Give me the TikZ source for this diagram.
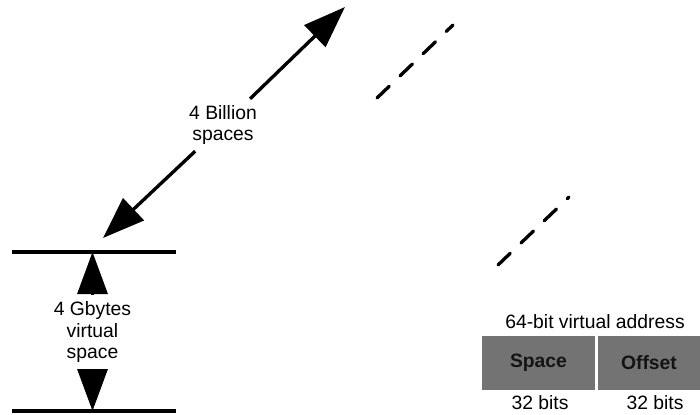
\documentclass[tikz,border=0pt]{standalone}
\usepackage{fontspec}
\setmainfont{Liberation Sans}
\usetikzlibrary{arrows.meta}
\tikzset{
  bigarrow/.style={line width=1.9pt,-{Triangle[length=0.84cm,width=0.6cm]}},
  rule/.style={line width=1.9pt},
  stackline/.style={line width=1.9pt,line cap=round,dash pattern=on 0.34cm off 0.3cm},
  lbl/.style={font=\fontsize{11}{12.5}\selectfont,align=center},
  field/.style={fill=black!55,minimum width=2.26cm,minimum height=1.08cm,inner sep=0pt,
    font=\fontsize{11}{12.5}\selectfont\bfseries,text=black!92}
}
\begin{document}
\begin{tikzpicture}
                \useasboundingbox (0,0) rectangle (14,-8.28);
                % one 4 GB space
                \coordinate (tl) at (0.24,-5.04);
                \coordinate (tr) at (3.52,-5.04);
                \coordinate (bl) at (0.24,-8.22);
                \coordinate (br) at (3.52,-8.22);
                \coordinate (top) at (1.85,-5.04);
                \coordinate (bot) at (1.85,-8.22);
                \draw[rule] (tl) -- (tr);
                \draw[rule] (bl) -- (br);
                \node[lbl] (gb) at (1.85,-6.64) {4 Gbytes\\virtual\\space};
                \draw[bigarrow] (gb) -- (top);
                \draw[bigarrow] (gb) -- (bot);
                % number of spaces
                \coordinate (lo) at (2.06,-4.76);
                \coordinate (hi) at (6.9,-0.14);
                \node[lbl] (bs) at (4.46,-2.5) {4 Billion\\spaces};
                \draw[bigarrow] (bs) -- (lo);
                \draw[bigarrow] (bs) -- (hi);
                % further spaces
                \coordinate (s1a) at (7.54,-1.96);
                \coordinate (s1b) at (9.06,-0.5);
                \coordinate (s2a) at (9.96,-5.3);
                \coordinate (s2b) at (11.38,-3.94);
                \draw[stackline] (s1a) -- (s1b);
                \draw[stackline] (s2a) -- (s2b);
                % address format
                \node[lbl] (va) at (11.9,-6.44) {64-bit virtual address};
                \node[field] (sp) at (10.77,-7.26) {Space};
                \node[field,minimum width=2.04cm] (of) at (12.98,-7.26) {Offset};
                \node[lbl] (spb) at (10.8,-8.06) {32 bits};
                \node[lbl] (ofb) at (13.1,-8.06) {32 bits};
            \end{tikzpicture}
\end{document}
